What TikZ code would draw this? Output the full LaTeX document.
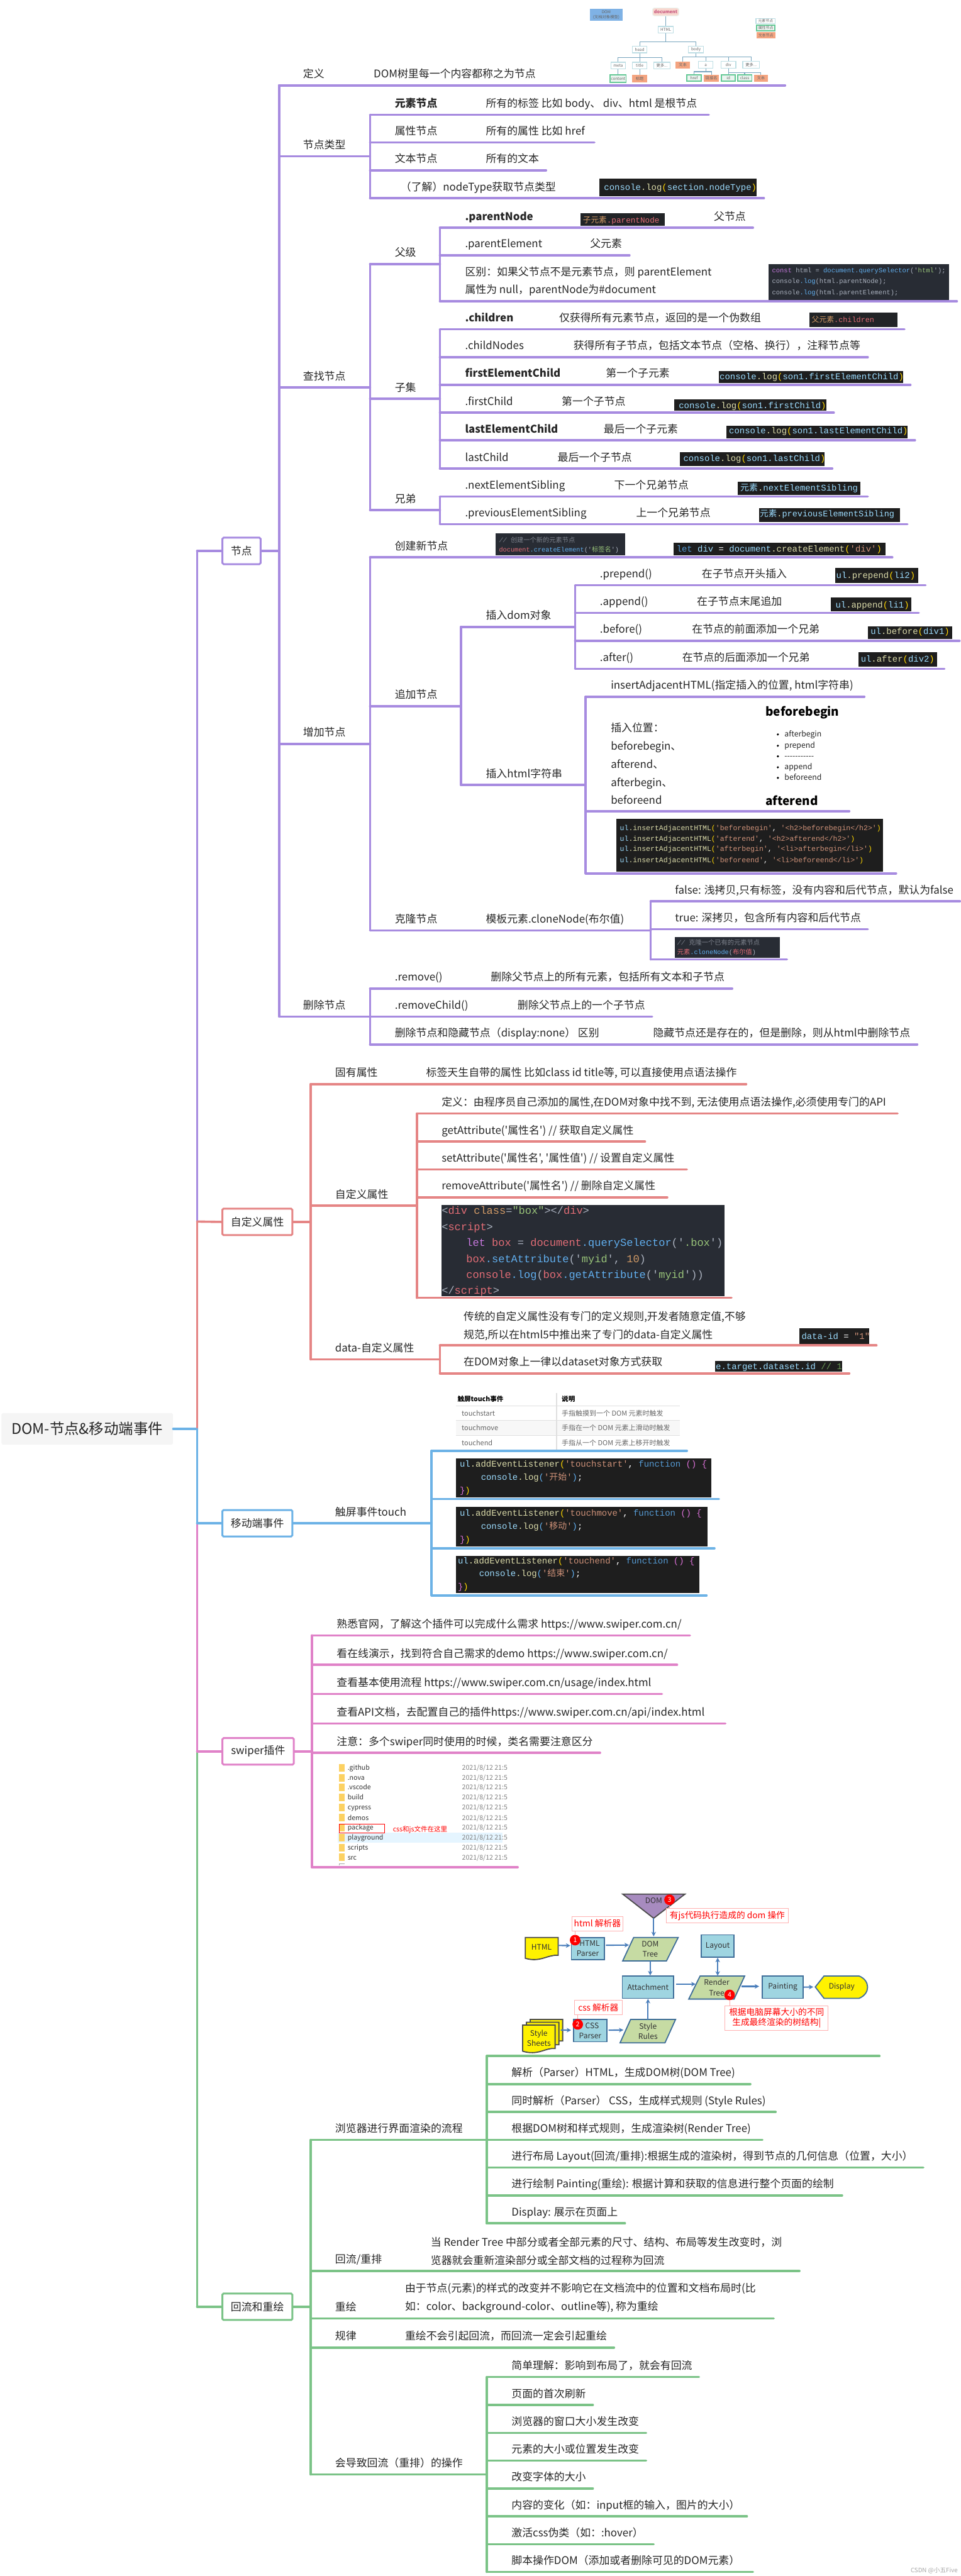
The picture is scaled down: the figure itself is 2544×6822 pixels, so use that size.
\documentclass[tikz,border=0pt]{standalone}
\usepackage{fontspec}
\setmonofont{Liberation Mono}
\newfontfamily\zhfont{Noto Sans CJK SC}
\usetikzlibrary{arrows.meta}

\definecolor{purp}{RGB}{167,139,224}
\definecolor{redl}{RGB}{229,133,133}
\definecolor{bluel}{RGB}{108,178,230}
\definecolor{pinkl}{RGB}{224,130,200}
\definecolor{greenl}{RGB}{123,195,135}
\definecolor{codedark}{RGB}{30,30,30}
\definecolor{codeone}{RGB}{40,44,52}
\definecolor{tvar}{RGB}{156,220,254}
\definecolor{tfun}{RGB}{220,220,170}
\definecolor{tstr}{RGB}{206,145,120}
\definecolor{tkey}{RGB}{86,156,214}
\definecolor{tpar}{RGB}{255,215,0}
\definecolor{tmag}{RGB}{218,112,214}
\definecolor{tnum}{RGB}{106,153,85}
\definecolor{ored}{RGB}{224,108,117}
\definecolor{oblu}{RGB}{97,175,239}
\definecolor{ogrn}{RGB}{152,195,121}
\definecolor{oorg}{RGB}{209,154,102}
\definecolor{opur}{RGB}{198,120,221}
\definecolor{ogry}{RGB}{127,132,142}
\definecolor{owht}{RGB}{171,178,191}
\definecolor{flowedge}{RGB}{63,110,153}
\definecolor{flowfill}{RGB}{159,213,225}
\definecolor{flowgrn}{RGB}{198,219,163}
\definecolor{flowarr}{RGB}{74,126,187}
\definecolor{flowtri}{RGB}{167,139,191}
\definecolor{domedge}{RGB}{190,222,228}
\definecolor{domline}{RGB}{120,165,190}
\definecolor{domgrn}{RGB}{100,200,150}
\definecolor{domgfil}{RGB}{235,245,240}
\definecolor{domorg}{RGB}{244,164,128}
\definecolor{domblu}{RGB}{127,178,229}
\definecolor{dompnk}{RGB}{248,215,207}
\definecolor{domtxt}{RGB}{200,90,128}

\newcommand{\zhsize}[1]{\zhfont\fontsize{#1}{#1}\selectfont}
\newcommand{\zhc}[1]{{\zhfont #1}}
\newcommand{\tk}[2]{\textcolor{#1}{#2}}

\tikzset{
  stem/.style={line width=0.06cm, line cap=round},
  lbl/.style={anchor=base west, inner sep=0pt, text=black!85, font=\zhsize{8}},
  lblb/.style={lbl, font=\zhsize{8}\bfseries},
  para/.style={anchor=west, inner sep=0pt, align=left, text=black!85, font=\zhfont\fontsize{8}{13.7}\selectfont},
  codeln/.style={anchor=base west, inner sep=0pt, text=tvar, font=\ttfamily\fontsize{#1}{#1}\selectfont},
  codeln/.default=6.6,
  mainbox/.style={draw=#1, line width=0.05cm, rounded corners=0.03cm, fill=white, minimum height=0.7cm, inner sep=0pt, text=black!85, font=\zhsize{8}},
  domel/.style={draw=domedge, line width=0.02cm, fill=white, inner sep=0pt, text=black!60, font=\zhsize{3}},
  domat/.style={domel, draw=domgrn, fill=domgfil, line width=0.03cm},
  domtx/.style={domel, draw=domorg, fill=domorg},
  domln/.style={draw=domline, line width=0.02cm},
  flowbox/.style={draw=flowedge, line width=0.03cm, fill=flowfill, inner sep=0pt, align=center, text=black!80, font=\zhfont\fontsize{5.7}{7.7}\selectfont},
  flowtxt/.style={inner sep=0pt, align=center, text=black!80, font=\zhfont\fontsize{5.7}{7.7}\selectfont},
  flowpara/.style={draw=flowedge, line width=0.03cm, fill=flowgrn},
  flowyel/.style={draw=black!70, line width=0.03cm, fill=yellow},
  flow/.style={-{Stealth[length=0.12cm,width=0.12cm]}, draw=flowarr, line width=0.035cm},
  badge/.style={circle, fill=red, text=white, inner sep=0pt, minimum size=0.28cm, font=\zhsize{5}},
  note/.style={draw=red!30, line width=0.01cm, fill=white, inner sep=0pt, align=center, text=red, font=\zhfont\fontsize{6.5}{7.6}\selectfont},
  notelink/.style={draw=red!35, line width=0.01cm},
}

% 一条主题线：名称、颜色、起点 x、终点 x、y、文字 x、文字
\newcommand{\branch}[7]{%
  \coordinate (#1-l) at (#3,#5);
  \coordinate (#1-r) at (#4,#5);
  \draw[stem,#2] (#1-l) -- (#1-r);
  \node[lbl] (#1) at (#6,#5-20) {#7};
}
\newcommand{\branchb}[7]{%
  \coordinate (#1-l) at (#3,#5);
  \coordinate (#1-r) at (#4,#5);
  \draw[stem,#2] (#1-l) -- (#1-r);
  \node[lblb] (#1) at (#6,#5-20) {#7};
}

\begin{document}
\begin{tikzpicture}[x=0.01cm, y=-0.01cm, >=stealth]
  \useasboundingbox (0,0) rectangle (2544,6822);

  % 根节点和主干
  \node[fill=black!4, rounded corners=0.05cm, minimum width=4.54cm, minimum height=0.84cm, inner sep=0pt, text=black!85, font=\zhsize{11.1}] (root) at (231,3784) {DOM-节点\&移动端事件};
  \coordinate (t-node) at (522,1459);
  \coordinate (t-attr) at (522,3235);
  \coordinate (t-root) at (522,3784);
  \coordinate (t-touch) at (522,4034);
  \coordinate (t-swiper) at (522,4638);
  \coordinate (t-flow) at (522,6109);
  \draw[stem,bluel] (root.east) -- (t-root);
  \draw[stem,purp] (t-node) -- (t-attr);
  \draw[stem,redl] (t-attr) -- (t-root);
  \draw[stem,bluel] (t-root) -- (t-touch);
  \draw[stem,pinkl] (t-touch) -- (t-swiper);
  \draw[stem,greenl] (t-swiper) -- (t-flow);

  % 节点
  \node[mainbox=purp, minimum width=1.01cm] (bnode) at (639.5,1459) {节点};
  \draw[stem,purp] (t-node) -- (bnode.west);
  \coordinate (j-node) at (739,1459);
  \draw[stem,purp] (bnode.east) -- (j-node);

  \branch{def}{purp}{739}{2079}{226}{802}{定义}
  \node[lbl] (def-v) at (989,206) {DOM树里每一个内容都称之为节点};

  \branch{ntype}{purp}{739}{980}{414}{802}{节点类型}
  \branchb{elem}{purp}{980}{1877}{304}{1045}{元素节点}
  \node[lbl] (elem-v) at (1286,284) {所有的标签 比如 body、 div、html 是根节点};
  \branch{attrn}{purp}{980}{1574}{377}{1045}{属性节点}
  \node[lbl] (attrn-v) at (1286,357) {所有的属性 比如 href};
  \branch{textn}{purp}{980}{1446}{451}{1045}{文本节点}
  \node[lbl] (textn-v) at (1286,431) {所有的文本};
  \branch{ntlog}{purp}{980}{2023}{525}{1060}{（了解）nodeType获取节点类型}
  \fill[codedark] (1588,473) rectangle (2003,520);
  \node[codeln] (ntlog-c) at (1599,503) {console\tk{tfun}{.log}\tk{tpar}{(}section.nodeType\tk{tpar}{)}};
  \draw[stem,purp] (elem-l) -- (ntlog-l);

  \branch{find}{purp}{739}{980}{1026}{802}{查找节点}
  \branch{parent}{purp}{980}{1165}{699}{1045}{父级}
  \branchb{pnode}{purp}{1165}{1994}{603}{1231}{.parentNode}
  \fill[codedark!60!codeone] (1538,565) rectangle (1761,598);
  \node[codeln=6] (pnode-c) at (1543,590) {\tk{oorg}{\zhc{子元素}}\tk{ored}{.parentNode}};
  \node[lbl] (pnode-v) at (1890,583) {父节点};
  \branch{pelem}{purp}{1165}{1667}{676}{1231}{.parentElement}
  \node[lbl] (pelem-v) at (1562,656) {父元素};
  \coordinate (pdiff-l) at (1165,798);
  \coordinate (pdiff-r) at (2534,798);
  \draw[stem,purp] (pdiff-l) -- (pdiff-r);
  \node[para] (pdiff) at (1231,745) {区别：如果父节点不是元素节点，则 parentElement\\属性为 null，parentNode为\#document};
  \fill[codeone] (2036,700) rectangle (2514,794);
  \node[codeln=4.95, text=owht] (pdiff-a) at (2044,722) {\tk{opur}{const} \tk{owht}{html} = \tk{oblu}{document.querySelector}('\tk{ogrn}{html}');};
  \node[codeln=4.95, text=owht] (pdiff-b) at (2044,751) {console\tk{oblu}{.log}(html.parentNode);};
  \node[codeln=4.95, text=owht] (pdiff-c) at (2044,781) {console\tk{oblu}{.log}(html.parentElement);};
  \draw[stem,purp] (pnode-l) -- (pdiff-l);

  \branch{son}{purp}{980}{1165}{1056}{1045}{子集}
  \branchb{chil}{purp}{1165}{2395}{872}{1231}{.children}
  \node[lbl] (chil-v) at (1480,852) {仅获得所有元素节点，返回的是一个伪数组};
  \fill[codedark!60!codeone] (2143,828) rectangle (2376,866);
  \node[codeln=5.6] (chil-c) at (2149,853) {\tk{oorg}{\zhc{父元素}}\tk{ored}{.children}};
  \branch{cnodes}{purp}{1165}{2298}{946}{1231}{.childNodes}
  \node[lbl] (cnodes-v) at (1518,926) {获得所有子节点，包括文本节点（空格、换行），注释节点等};
  \branchb{fec}{purp}{1165}{2411}{1019}{1231}{firstElementChild}
  \node[lbl] (fec-v) at (1604,999) {第一个子元素};
  \fill[codedark] (1903,983) rectangle (2392,1015);
  \node[codeln] (fec-c) at (1905,1005) {console\tk{tfun}{.log}\tk{tpar}{(}son1.firstElementChild\tk{tpar}{)}};
  \branch{fc}{purp}{1165}{2208}{1093}{1231}{.firstChild}
  \node[lbl] (fc-v) at (1487,1073) {第一个子节点};
  \fill[codedark] (1785,1057) rectangle (2188,1088);
  \node[codeln] (fc-c) at (1797,1081) {console\tk{tfun}{.log}\tk{tpar}{(}son1.firstChild\tk{tpar}{)}};
  \branchb{lec}{purp}{1165}{2423}{1166}{1231}{lastElementChild}
  \node[lbl] (lec-v) at (1598,1146) {最后一个子元素};
  \fill[codedark] (1924,1127) rectangle (2403,1161);
  \node[codeln] (lec-c) at (1930,1149) {console\tk{tfun}{.log}\tk{tpar}{(}son1.lastElementChild\tk{tpar}{)}};
  \branch{lc}{purp}{1165}{2204}{1241}{1231}{lastChild}
  \node[lbl] (lc-v) at (1476,1221) {最后一个子节点};
  \fill[codedark] (1801,1197) rectangle (2184,1234);
  \node[codeln] (lc-c) at (1809,1222) {console\tk{tfun}{.log}\tk{tpar}{(}son1.lastChild\tk{tpar}{)}};
  \draw[stem,purp] (chil-l) -- (lc-l);

  \branch{sib}{purp}{980}{1165}{1351}{1045}{兄弟}
  \branch{nes}{purp}{1165}{2298}{1315}{1231}{.nextElementSibling}
  \node[lbl] (nes-v) at (1626,1295) {下一个兄弟节点};
  \fill[codedark] (1954,1276) rectangle (2278,1310);
  \node[codeln] (nes-c) at (1960,1300) {\zhc{元素}\tk{tfun}{.}nextElementSibling};
  \branch{pes}{purp}{1165}{2403}{1388}{1231}{.previousElementSibling}
  \node[lbl] (pes-v) at (1684,1368) {上一个兄弟节点};
  \fill[codedark] (2010,1345) rectangle (2384,1383);
  \node[codeln=6.4] (pes-c) at (2012,1368) {\zhc{元素}\tk{tfun}{.}previousElementSibling};
  \draw[stem,purp] (nes-l) -- (pes-l);
  \draw[stem,purp] (parent-l) -- (sib-l);

  \branch{add}{purp}{739}{980}{1970}{802}{增加节点}
  \branch{create}{purp}{980}{2363}{1476}{1045}{创建新节点}
  \fill[codeone] (1313,1413) rectangle (1656,1470);
  \node[codeln=4.85, text=ogry] (create-a) at (1321,1436) {\textit{// \zhc{创建一个新的元素节点}}};
  \node[codeln=4.85, text=owht] (create-b) at (1321,1462) {\tk{ored}{document}\tk{oblu}{.createElement}('\tk{ogrn}{\zhc{标签名}}')};
  \fill[codedark] (1784,1437) rectangle (2345,1471);
  \node[codeln] (create-c) at (1791,1461) {\tk{tkey}{let} div \tk{white}{=} document\tk{tfun}{.createElement}\tk{tpar}{(}\tk{tstr}{'div'}\tk{tpar}{)}};

  \branch{append}{purp}{980}{1221}{1870}{1045}{追加节点}
  \branch{insdom}{purp}{1221}{1523}{1660}{1286}{插入dom对象}
  \branch{iprep}{purp}{1523}{2451}{1550}{1588}{.prepend()}
  \node[lbl] (iprep-v) at (1858,1530) {在子节点开头插入};
  \fill[codedark] (2212,1504) rectangle (2431,1544);
  \node[codeln] (iprep-c) at (2214,1531) {ul\tk{tfun}{.prepend}\tk{tpar}{(}li2\tk{tpar}{)}};
  \branch{iapp}{purp}{1523}{2433}{1623}{1588}{.append()}
  \node[lbl] (iapp-v) at (1845,1603) {在子节点末尾追加};
  \fill[codedark] (2200,1582) rectangle (2414,1619);
  \node[codeln] (iapp-c) at (2212,1610) {ul\tk{tfun}{.append}\tk{tpar}{(}li1\tk{tpar}{)}};
  \branch{ibef}{purp}{1523}{2541}{1697}{1588}{.before()}
  \node[lbl] (ibef-v) at (1832,1677) {在节点的前面添加一个兄弟};
  \fill[codedark] (2299,1658) rectangle (2522,1692);
  \node[codeln] (ibef-c) at (2305,1679) {ul\tk{tfun}{.before}\tk{tpar}{(}div1\tk{tpar}{)}};
  \branch{iaft}{purp}{1523}{2501}{1771}{1588}{.after()}
  \node[lbl] (iaft-v) at (1806,1751) {在节点的后面添加一个兄弟};
  \fill[codedark] (2273,1727) rectangle (2481,1765);
  \node[codeln] (iaft-c) at (2279,1753) {ul\tk{tfun}{.after}\tk{tpar}{(}div2\tk{tpar}{)}};
  \draw[stem,purp] (iprep-l) -- (iaft-l);

  \branch{inshtml}{purp}{1221}{1551}{2079}{1286}{插入html字符串}
  \branch{iadj}{purp}{1551}{2289}{1845}{1617}{insertAdjacentHTML(指定插入的位置, html字符串)}
  \coordinate (ipos-l) at (1551,2148);
  \coordinate (ipos-r) at (2249,2148);
  \draw[stem,purp] (ipos-l) -- (ipos-r);
  \node[para] (ipos) at (1617,2022) {插入位置：\\beforebegin、\\afterend、\\afterbegin、\\beforeend};
  \node[anchor=base west, inner sep=0pt, font=\zhsize{9}\bfseries] (ibb) at (2027,1896) {beforebegin};
  \node[anchor=base west, inner sep=0pt, font=\zhsize{9}\bfseries] (iae) at (2027,2132) {afterend};
  \foreach \yy/\lab in {1945/afterbegin,1975/prepend,2003/-----------,2032/append,2060/beforeend}{
    \fill[black] (2060,\yy) circle (3);
    \node[anchor=base west, inner sep=0pt, text=black!85, font=\zhsize{5.8}] (il\yy) at (2077,\yy+6) {\lab};
  }
  \coordinate (icode-l) at (1551,2313);
  \coordinate (icode-r) at (2373,2313);
  \draw[stem,purp] (icode-l) -- (icode-r);
  \fill[codedark] (1632,2168) rectangle (2339,2309);
  \node[codeln=5.46] (ic-a) at (1641,2199) {ul\tk{tfun}{.insertAdjacentHTML}\tk{tpar}{(}\tk{tstr}{'beforebegin'}\tk{white}{,} \tk{tstr}{'<h2>beforebegin</h2>'}\tk{tpar}{)}};
  \node[codeln=5.46] (ic-b) at (1641,2227) {ul\tk{tfun}{.insertAdjacentHTML}\tk{tpar}{(}\tk{tstr}{'afterend'}\tk{white}{,} \tk{tstr}{'<h2>afterend</h2>'}\tk{tpar}{)}};
  \node[codeln=5.46] (ic-c) at (1641,2255) {ul\tk{tfun}{.insertAdjacentHTML}\tk{tpar}{(}\tk{tstr}{'afterbegin'}\tk{white}{,} \tk{tstr}{'<li>afterbegin</li>'}\tk{tpar}{)}};
  \node[codeln=5.46] (ic-d) at (1641,2284) {ul\tk{tfun}{.insertAdjacentHTML}\tk{tpar}{(}\tk{tstr}{'beforeend'}\tk{white}{,} \tk{tstr}{'<li>beforeend</li>'}\tk{tpar}{)}};
  \draw[stem,purp] (iadj-l) -- (icode-l);
  \draw[stem,purp] (insdom-l) -- (inshtml-l);

  \branch{clone}{purp}{980}{1723}{2464}{1045}{克隆节点}
  \node[lbl] (clone-v) at (1286,2444) {模板元素.cloneNode(布尔值)};
  \branch{cfalse}{purp}{1723}{2542}{2387}{1787}{false: 浅拷贝,只有标签，没有内容和后代节点，默认为false}
  \branch{ctrue}{purp}{1723}{2298}{2461}{1787}{true: 深拷贝，包含所有内容和后代节点}
  \coordinate (ccode-l) at (1723,2541);
  \coordinate (ccode-r) at (2084,2541);
  \draw[stem,purp] (ccode-l) -- (ccode-r);
  \fill[codeone] (1787,2481) rectangle (2066,2536);
  \node[codeln=4.85, text=ogry] (cc-a) at (1793,2502) {\textit{// \zhc{克隆一个已有的元素节点}}};
  \node[codeln=4.85, text=owht] (cc-b) at (1793,2528) {\tk{ored}{\zhc{元素}}\tk{oblu}{.cloneNode}(\tk{ored}{\zhc{布尔值}})};
  \draw[stem,purp] (cfalse-l) -- (ccode-l);
  \draw[stem,purp] (create-l) -- (clone-l);

  \branch{del}{purp}{739}{980}{2692}{802}{删除节点}
  \branch{rem}{purp}{980}{1939}{2618}{1045}{.remove()}
  \node[lbl] (rem-v) at (1299,2598) {删除父节点上的所有元素，包括所有文本和子节点};
  \branch{remc}{purp}{980}{1727}{2692}{1045}{.removeChild()}
  \node[lbl] (remc-v) at (1370,2672) {删除父节点上的一个子节点};
  \branch{hide}{purp}{980}{2429}{2766}{1045}{删除节点和隐藏节点（display:none） 区别}
  \node[lbl] (hide-v) at (1729,2746) {隐藏节点还是存在的，但是删除，则从html中删除节点};
  \draw[stem,purp] (rem-l) -- (hide-l);
  \draw[stem,purp] (def-l) -- (del-l);

  % 自定义属性
  \node[mainbox=redl, minimum width=1.85cm] (battr) at (681.5,3236) {自定义属性};
  \draw[stem,redl] (t-attr) -- (battr.west);
  \coordinate (j-attr) at (823,3236);
  \draw[stem,redl] (battr.east) -- (j-attr);
  \branch{own}{redl}{823}{1976}{2871}{887}{固有属性}
  \node[lbl] (own-v) at (1128,2851) {标签天生自带的属性 比如class id title等, 可以直接使用点语法操作};
  \branch{custom}{redl}{823}{1104}{3193}{887}{自定义属性}
  \branch{cdef}{redl}{1104}{2377}{2949}{1169}{定义：由程序员自己添加的属性,在DOM对象中找不到, 无法使用点语法操作,必须使用专门的API}
  \branch{cget}{redl}{1104}{1708}{3023}{1169}{getAttribute('属性名') // 获取自定义属性}
  \branch{cset}{redl}{1104}{1819}{3097}{1169}{setAttribute('属性名', '属性值') // 设置自定义属性}
  \branch{crem}{redl}{1104}{1767}{3171}{1169}{removeAttribute('属性名') // 删除自定义属性}
  \coordinate (ccbox-l) at (1104,3437);
  \coordinate (ccbox-r) at (1937,3437);
  \draw[stem,redl] (ccbox-l) -- (ccbox-r);
  \fill[codeone] (1169,3191) rectangle (1918,3433);
  \node[codeln=8.05, text=owht] (cb-a) at (1169,3216) {<\tk{ored}{div} \tk{oorg}{class}=\tk{ogrn}{"box"}></\tk{ored}{div}>};
  \node[codeln=8.05, text=owht] (cb-b) at (1169,3258) {<\tk{ored}{script}>};
  \node[codeln=8.05, text=owht] (cb-c) at (1234,3300) {\tk{opur}{let} \tk{ored}{box} = \tk{ored}{document}\tk{oblu}{.querySelector}('\tk{ogrn}{.box}')};
  \node[codeln=8.05, text=owht] (cb-d) at (1234,3343) {\tk{ored}{box}\tk{oblu}{.setAttribute}('\tk{ogrn}{myid}', \tk{oorg}{10})};
  \node[codeln=8.05, text=owht] (cb-e) at (1234,3385) {\tk{ored}{console}\tk{oblu}{.log}(\tk{ored}{box}\tk{oblu}{.getAttribute}('\tk{ogrn}{myid}'))};
  \node[codeln=8.05, text=owht] (cb-f) at (1169,3427) {</\tk{ored}{script}>};
  \draw[stem,redl] (cdef-l) -- (ccbox-l);
  \branch{dattr}{redl}{823}{1165}{3600}{887}{data-自定义属性}
  \coordinate (dold-l) at (1165,3563);
  \coordinate (dold-r) at (2321,3563);
  \draw[stem,redl] (dold-l) -- (dold-r);
  \node[para] (dold) at (1227,3511) {传统的自定义属性没有专门的定义规则,开发者随意定值,不够\\规范,所以在html5中推出来了专门的data-自定义属性};
  \fill[codedark] (2117,3518) rectangle (2302,3559);
  \node[codeln] (dold-c) at (2122,3546) {data-id \tk{white}{=} \tk{tstr}{"1"}};
  \branch{dget}{redl}{1165}{2249}{3637}{1227}{在DOM对象上一律以dataset对象方式获取}
  \fill[codedark] (1894,3604) rectangle (2230,3633);
  \node[codeln] (dget-c) at (1895,3626) {e.target.dataset.id \tk{tnum}{// 1}};
  \draw[stem,redl] (dold-l) -- (dget-l);
  \draw[stem,redl] (own-l) -- (dattr-l);

  % 移动端事件
  \node[mainbox=bluel, minimum width=1.85cm] (bmove) at (681.5,4034) {移动端事件};
  \draw[stem,bluel] (t-touch) -- (bmove.west);
  \coordinate (j-move) at (1143,4034);
  \draw[stem,bluel] (bmove.east) -- (j-move);
  \node[lbl] (touch) at (887,4014) {触屏事件touch};
  \coordinate (ttab-l) at (1143,3842);
  \coordinate (ttab-r) at (1819,3842);
  \draw[stem,bluel] (ttab-l) -- (ttab-r);
  \fill[black!3] (1207,3762) rectangle (1801,3801);
  \draw[black!12, line width=0.02cm] (1474,3689) -- (1474,3839);
  \foreach \yy in {3723,3762,3801}{
    \draw[black!12, line width=0.02cm] (1207,\yy) -- (1801,\yy);
  }
  \node[anchor=base west, inner sep=0pt, font=\zhsize{5}\bfseries] (th-a) at (1211,3711) {触屏touch事件};
  \node[anchor=base west, inner sep=0pt, font=\zhsize{5}\bfseries] (th-b) at (1487,3711) {说明};
  \foreach \yy/\cola/\colb in {3750/touchstart/手指触摸到一个 DOM 元素时触发,3789/touchmove/手指在一个 DOM 元素上滑动时触发,3828/touchend/手指从一个 DOM 元素上移开时触发}{
    \node[anchor=base west, inner sep=0pt, text=black!60, font=\zhsize{5.2}] (ta\yy) at (1222,\yy) {\cola};
    \node[anchor=base west, inner sep=0pt, text=black!60, font=\zhsize{5.2}] (tb\yy) at (1487,\yy) {\colb};
  }
  \coordinate (tc1-l) at (1143,3970);
  \coordinate (tc1-r) at (1904,3970);
  \draw[stem,bluel] (tc1-l) -- (tc1-r);
  \fill[codedark] (1207,3863) rectangle (1884,3966);
  \node[codeln] (tc1-a) at (1217,3885) {ul\tk{tfun}{.addEventListener}\tk{tpar}{(}\tk{tstr}{'touchstart'}\tk{white}{,} \tk{tkey}{function} \tk{tmag}{()} \tk{tmag}{\{}};
  \node[codeln] (tc1-b) at (1273,3920) {console\tk{tfun}{.log}\tk{oblu}{(}\tk{tstr}{'\zhc{开始}'}\tk{oblu}{)}\tk{white}{;}};
  \node[codeln] (tc1-c) at (1217,3955) {\tk{tmag}{\}}\tk{tpar}{)}};
  \coordinate (tc2-l) at (1143,4100);
  \coordinate (tc2-r) at (1892,4100);
  \draw[stem,bluel] (tc2-l) -- (tc2-r);
  \fill[codedark] (1207,3990) rectangle (1873,4095);
  \node[codeln] (tc2-a) at (1217,4015) {ul\tk{tfun}{.addEventListener}\tk{tpar}{(}\tk{tstr}{'touchmove'}\tk{white}{,} \tk{tkey}{function} \tk{tmag}{()} \tk{tmag}{\{}};
  \node[codeln] (tc2-b) at (1273,4049) {console\tk{tfun}{.log}\tk{oblu}{(}\tk{tstr}{'\zhc{移动}'}\tk{oblu}{)}\tk{white}{;}};
  \node[codeln] (tc2-c) at (1217,4084) {\tk{tmag}{\}}\tk{tpar}{)}};
  \coordinate (tc3-l) at (1143,4225);
  \coordinate (tc3-r) at (1871,4225);
  \draw[stem,bluel] (tc3-l) -- (tc3-r);
  \fill[codedark] (1207,4120) rectangle (1852,4219);
  \node[codeln] (tc3-a) at (1212,4141) {ul\tk{tfun}{.addEventListener}\tk{tpar}{(}\tk{tstr}{'touchend'}\tk{white}{,} \tk{tkey}{function} \tk{tmag}{()} \tk{tmag}{\{}};
  \node[codeln] (tc3-b) at (1268,4175) {console\tk{tfun}{.log}\tk{oblu}{(}\tk{tstr}{'\zhc{结束}'}\tk{oblu}{)}\tk{white}{;}};
  \node[codeln] (tc3-c) at (1212,4210) {\tk{tmag}{\}}\tk{tpar}{)}};
  \draw[stem,bluel] (ttab-l) -- (tc3-l);

  % swiper插件
  \node[mainbox=pinkl, minimum width=1.89cm] (bswiper) at (683.5,4638) {swiper插件};
  \draw[stem,pinkl] (t-swiper) -- (bswiper.west);
  \coordinate (j-swiper) at (826,4638);
  \draw[stem,pinkl] (bswiper.east) -- (j-swiper);
  \branch{sw1}{pinkl}{826}{1827}{4331}{891}{熟悉官网，了解这个插件可以完成什么需求 https://www.swiper.com.cn/}
  \branch{sw2}{pinkl}{826}{1793}{4409}{891}{看在线演示，找到符合自己需求的demo https://www.swiper.com.cn/}
  \branch{sw3}{pinkl}{826}{1753}{4486}{891}{查看基本使用流程 https://www.swiper.com.cn/usage/index.html}
  \branch{sw4}{pinkl}{826}{1921}{4564}{891}{查看API文档，去配置自己的插件https://www.swiper.com.cn/api/index.html}
  \branch{sw5}{pinkl}{826}{1589}{4642}{891}{注意：多个swiper同时使用的时候，类名需要注意区分}
  \coordinate (sw6-l) at (826,4945);
  \coordinate (sw6-r) at (1371,4945);
  \draw[stem,pinkl] (sw6-l) -- (sw6-r);
  \fill[blue!40!cyan!10] (894,4853) rectangle (1330,4880);
  \foreach \yy/\lab in {4681/.github,4708/.nova,4734/.vscode,4760/build,4787/cypress,4814/demos,4840/package,4867/playground,4893/scripts,4919/src}{
    \fill[yellow!45!orange!60] (898,\yy-10) rectangle (913,\yy+10);
    \node[anchor=base west, inner sep=0pt, text=black!80, font=\zhsize{5}] (fn\yy) at (920,\yy+6) {\lab};
    \node[anchor=base west, inner sep=0pt, text=black!50, font=\zhsize{5}] (fd\yy) at (1223,\yy+6) {2021/8/12 21:5};
  }
  \draw[black!35, line width=0.01cm] (898,4940) -- (898,4936) -- (912,4936);
  \draw[red, line width=0.015cm] (898,4831) rectangle (1018,4854);
  \node[anchor=base west, inner sep=0pt, text=red, font=\zhsize{5}] (fnote) at (1040,4850) {css和js文件在这里};
  \draw[stem,pinkl] (sw1-l) -- (sw6-l);

  % 回流和重绘
  \node[mainbox=greenl, minimum width=1.85cm] (bflow) at (681.5,6109) {回流和重绘};
  \draw[stem,greenl] (t-flow) -- (bflow.west);
  \coordinate (j-flow) at (823,6109);
  \draw[stem,greenl] (bflow.east) -- (j-flow);

  \branch{rend}{greenl}{823}{1289}{5667}{887}{浏览器进行界面渲染的流程}
  \coordinate (rimg-l) at (1289,5445);
  \coordinate (rimg-r) at (2329,5445);
  \draw[stem,greenl] (rimg-l) -- (rimg-r);
  \branch{r1}{greenl}{1289}{1987}{5519}{1354}{解析（Parser）HTML，生成DOM树(DOM Tree)}
  \branch{r2}{greenl}{1289}{2054}{5593}{1354}{同时解析（Parser） CSS，生成样式规则 (Style Rules)}
  \branch{r3}{greenl}{1289}{2019}{5667}{1354}{根据DOM树和样式规则，生成渲染树(Render Tree)}
  \branch{r4}{greenl}{1289}{2445}{5740}{1354}{进行布局 Layout(回流/重排):根据生成的渲染树，得到节点的几何信息（位置，大小）}
  \branch{r5}{greenl}{1289}{2230}{5814}{1354}{进行绘制 Painting(重绘): 根据计算和获取的信息进行整个页面的绘制}
  \branch{r6}{greenl}{1289}{1655}{5888}{1354}{Display: 展示在页面上}
  \draw[stem,greenl] (rimg-l) -- (r6-l);

  \branch{refl}{greenl}{823}{2117}{6014}{887}{回流/重排}
  \node[para] (refl-v) at (1140,5961) {当 Render Tree 中部分或者全部元素的尺寸、结构、布局等发生改变时，浏\\览器就会重新渲染部分或全部文档的过程称为回流};
  \branch{repa}{greenl}{823}{2049}{6140}{887}{重绘}
  \node[para] (repa-v) at (1072,6086) {由于节点(元素)的样式的改变并不影响它在文档流中的位置和文档布局时(比\\如：color、background-color、outline等), 称为重绘};
  \branch{rule}{greenl}{823}{1626}{6217}{887}{规律}
  \node[lbl] (rule-v) at (1072,6197) {重绘不会引起回流，而回流一定会引起重绘};
  \branch{cause}{greenl}{823}{1289}{6553}{887}{会导致回流（重排）的操作}
  \branch{c1}{greenl}{1289}{1851}{6295}{1354}{简单理解：影响到布局了，就会有回流}
  \branch{c2}{greenl}{1289}{1570}{6369}{1354}{页面的首次刷新}
  \branch{c3}{greenl}{1289}{1711}{6443}{1354}{浏览器的窗口大小发生改变}
  \branch{c4}{greenl}{1289}{1711}{6516}{1354}{元素的大小或位置发生改变}
  \branch{c5}{greenl}{1289}{1570}{6590}{1354}{改变字体的大小}
  \branch{c6}{greenl}{1289}{1978}{6664}{1354}{内容的变化（如：input框的输入，图片的大小）}
  \branch{c7}{greenl}{1289}{1731}{6738}{1354}{激活css伪类（如：:hover）}
  \branch{c8}{greenl}{1289}{1994}{6811}{1354}{脚本操作DOM（添加或者删除可见的DOM元素）}
  \draw[stem,greenl] (c1-l) -- (c8-l);
  \draw[stem,greenl] (rend-l) -- (cause-l);

  % DOM 树小图
  \node[fill=domblu, minimum width=0.85cm, minimum height=0.32cm, inner sep=0pt, align=center, text=black!60, font=\zhfont\fontsize{3}{3.8}\selectfont] (ddom) at (1605.5,39) {DOM\\(文档对象模型)};
  \node[domel, draw=domgfil, fill=dompnk, rounded corners=0.05cm, minimum width=0.70cm, minimum height=0.21cm, text=domtxt, font=\zhsize{3.4}\bfseries] (ddoc) at (1763,31.5) {document};
  \node[domel, minimum width=0.39cm, minimum height=0.18cm] (dhtml) at (1763,79) {HTML};
  \coordinate (d1) at (1763,111);
  \node[domel, minimum width=0.38cm, minimum height=0.18cm] (dhead) at (1694,131) {head};
  \node[domel, minimum width=0.39cm, minimum height=0.18cm] (dbody) at (1843,131) {body};
  \coordinate (d2) at (1694,152);
  \coordinate (d3) at (1843,151);
  \node[domel, minimum width=0.38cm, minimum height=0.18cm] (dmeta) at (1637,174) {meta};
  \node[domel, minimum width=0.38cm, minimum height=0.18cm] (dtitle) at (1694,174) {title};
  \node[domel, minimum width=0.44cm, minimum height=0.18cm] (dmore) at (1753,174) {更多...};
  \node[domat, minimum width=0.42cm, minimum height=0.19cm] (dcont) at (1637,208) {content};
  \node[domtx, minimum width=0.37cm, minimum height=0.17cm] (dtit) at (1694,208) {标题};
  \node[domtx, minimum width=0.37cm, minimum height=0.17cm] (dtext) at (1808,172) {文本};
  \node[domel, minimum width=0.39cm, minimum height=0.18cm] (da) at (1869,172) {a};
  \node[domel, minimum width=0.39cm, minimum height=0.18cm] (ddiv) at (1929,172) {div};
  \node[domel, minimum width=0.44cm, minimum height=0.18cm] (dmor2) at (1989,172) {更多...};
  \coordinate (d4) at (1869,190);
  \coordinate (d5) at (1929,193);
  \node[domat, minimum width=0.39cm, minimum height=0.17cm] (dhref) at (1838,206.5) {href};
  \node[domtx, minimum width=0.37cm, minimum height=0.16cm] (dlink) at (1884,207) {链接名};
  \node[domat, minimum width=0.37cm, minimum height=0.17cm] (did) at (1929,206.5) {id};
  \node[domat, minimum width=0.38cm, minimum height=0.17cm] (dclass) at (1972,206.5) {class};
  \node[domtx, minimum width=0.35cm, minimum height=0.16cm] (dtx2) at (2015,207) {文本};
  \node[domel, minimum width=0.51cm, minimum height=0.13cm, font=\zhsize{2.8}] (lg1) at (2027.5,55.5) {元素节点};
  \node[domat, minimum width=0.48cm, minimum height=0.15cm, font=\zhsize{2.8}] (lg2) at (2028,73.5) {属性节点};
  \node[domtx, minimum width=0.48cm, minimum height=0.14cm, font=\zhsize{2.8}] (lg3) at (2028,93) {文本节点};
  \draw[domln] (ddoc) -- (dhtml);
  \draw[domln] (dhtml) -- (d1);
  \draw[domln] (d1) -| (dhead);
  \draw[domln] (d1) -| (dbody);
  \draw[domln] (dhead) -- (dtitle);
  \draw[domln] (d2) -| (dmeta);
  \draw[domln] (d2) -| (dmore);
  \draw[domln] (dbody) -- (d3);
  \draw[domln] (d3) -| (dtext);
  \draw[domln] (d3) -| (da);
  \draw[domln] (d3) -| (ddiv);
  \draw[domln] (d3) -| (dmor2);
  \draw[domln] (dmeta) -- (dcont);
  \draw[domln] (dtitle) -- (dtit);
  \draw[domln] (da) -- (d4);
  \draw[domln] (d4) -| (dhref);
  \draw[domln] (d4) -| (dlink);
  \draw[domln] (ddiv) -- (did);
  \draw[domln] (d5) -| (dclass);
  \draw[domln] (d5) -| (dtx2);

  % 渲染流程图
  \draw[flowyel] (1391,5131) -- (1478,5131) -- (1478,5178) .. controls (1450,5176) and (1430,5198) .. (1391,5186) -- cycle;
  \node[flowtxt] (fhtml) at (1434,5156) {HTML};
  \coordinate (fhtml-r) at (1478,5152);
  \node[flowbox, minimum width=0.87cm, minimum height=0.59cm] (fhp) at (1556.5,5160.5) {\hspace*{0.1cm}HTML\\Parser};
  \draw[flowpara] (1649,5193) -- (1678,5131) -- (1796,5131) -- (1765,5193) -- cycle;
  \node[flowtxt, minimum width=1.17cm, minimum height=0.62cm] (fdt) at (1722,5162) {DOM\\Tree};
  \draw[flowyel, fill=flowtri] (1649,5016) -- (1814,5016) -- (1731,5080) -- cycle;
  \coordinate (fdom) at (1731,5080);
  \node[flowtxt] (fdomt) at (1731,5033) {DOM};
  \node[flowbox, minimum width=0.87cm, minimum height=0.59cm] (flay) at (1900.5,5153.5) {Layout};
  \node[flowbox, minimum width=1.36cm, minimum height=0.59cm] (fatt) at (1716,5262.5) {Attachment};
  \draw[flowpara] (1824,5294) -- (1854,5233) -- (1972,5233) -- (1944,5294) -- cycle;
  \node[flowtxt, minimum width=1.18cm, minimum height=0.61cm] (frt) at (1898,5263.5) {Render\\Tree};
  \node[flowbox, minimum width=1.08cm, minimum height=0.59cm] (fpai) at (2073,5262.5) {Painting};
  \draw[flowyel, draw=flowedge] (2159,5262) -- (2182,5233) -- (2275,5233) .. controls (2305,5245) and (2305,5280) .. (2275,5292) -- (2182,5292) -- cycle;
  \node[flowtxt] (fdis) at (2229,5262) {Display};
  \coordinate (fdis-l) at (2154,5262);
  \foreach \dx in {20,10,0}{
    \draw[flowyel] (1384+\dx,5363-0.75*\dx) -- (1470+\dx,5363-0.75*\dx) -- (1470+\dx,5425-\dx) .. controls (1445+\dx,5422-\dx) and (1425+\dx,5445-\dx) .. (1384+\dx,5432-\dx) -- cycle;
  }
  \node[flowtxt] (fss) at (1427,5398) {Style\\Sheets};
  \coordinate (fss-r) at (1485,5376);
  \node[flowbox, minimum width=0.88cm, minimum height=0.59cm] (fcp) at (1563,5377.5) {\hspace*{0.1cm}CSS\\Parser};
  \draw[flowpara] (1642,5410) -- (1670,5348) -- (1789,5348) -- (1761,5410) -- cycle;
  \node[flowtxt, minimum width=1.19cm, minimum height=0.62cm] (fsr) at (1716,5379) {Style\\Rules};
  \coordinate (fsr-l) at (1651,5376);
  \coordinate (fdt-t) at (1731,5128);

  \draw[flow] (fhtml-r) -- ([shift={(-1,-8)}]fhp.west);
  \draw[flow] ([shift={(3,-9)}]fhp.east) -- ([shift={(3,-11)}]fdt.west);
  \draw[flow] (fdom) -- (fdt-t);
  \draw[flow] (fdt.south) -- (fatt.north -| fdt.south);
  \draw[flow, {Stealth[length=0.12cm,width=0.12cm]}-{Stealth[length=0.12cm,width=0.12cm]}] (flay.south) -- (flay.south |- frt.north);
  \draw[flow] ([shift={(5,-8)}]fatt.east) -- ([shift={(4,-9)}]frt.west);
  \draw[flow] ([shift={(6,-3)}]frt.east) -- ([shift={(-7,-2)}]fpai.west);
  \draw[flow] (fpai.east) -- (fdis-l);
  \draw[flow] (fss-r) -- ([shift={(-5,-1)}]fcp.west);
  \draw[flow] ([shift={(3,-1)}]fcp.east) -- (fsr-l);
  \draw[flow] (fsr.north) -- (fatt.south);

  \node[note, minimum width=1.36cm, minimum height=0.38cm] (nhtml) at (1582,5094) {html 解析器};
  \node[note, minimum width=3.22cm, minimum height=0.38cm] (ndom) at (1926,5073) {有js代码执行造成的 dom 操作};
  \node[note, minimum width=1.27cm, minimum height=0.38cm] (ncss) at (1584.5,5316) {css 解析器};
  \node[note, minimum width=2.73cm, minimum height=0.65cm] (nrend) at (2056.5,5344.5) {根据电脑屏幕大小的不同\\生成最终渲染的树结构|};
  \node[badge] (b1) at (1523,5138) {1};
  \node[badge] (b2) at (1530,5361) {2};
  \node[badge] (b3) at (1773,5031) {3};
  \node[badge] (b4) at (1932,5283) {4};
  \draw[notelink] (b1.north) -- (b1.north |- nhtml.south);
  \draw[notelink] (b2.north) -- (b2.north |- ncss.south);
  \draw[notelink] (b3.south) -- (b3.south |- ndom.north);
  \draw[notelink] (b4.south) -- (b4.south |- nrend.north);

  % 水印
  \node[anchor=base west, inner sep=0pt, text=black!35, font=\zhsize{4.6}] (mark) at (2411,6812) {CSDN @小五Five};
\end{tikzpicture}
\end{document}
